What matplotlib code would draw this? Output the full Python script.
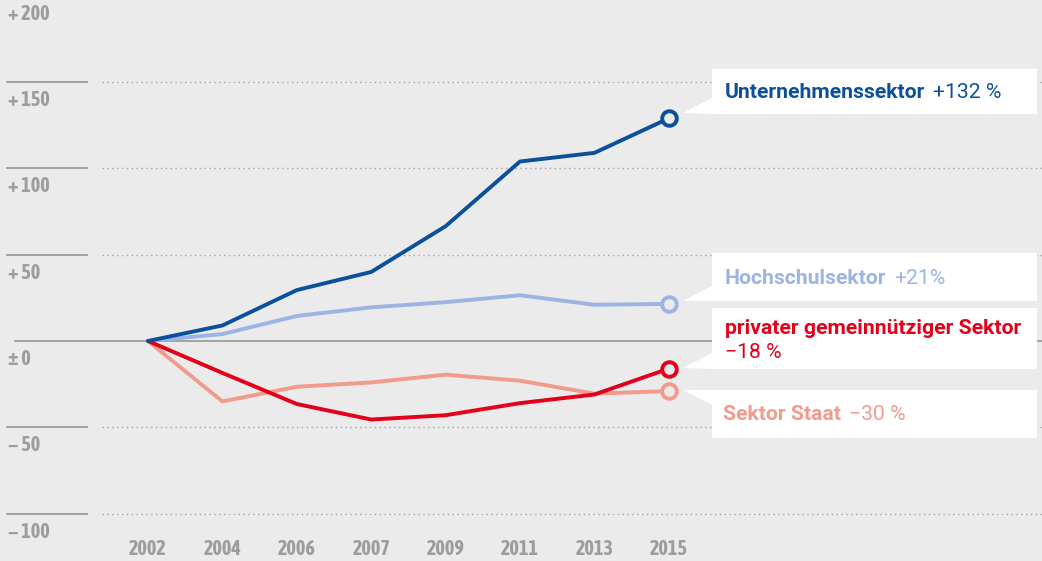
import matplotlib
matplotlib.use("Agg")
import matplotlib.pyplot as plt
from matplotlib import font_manager
from matplotlib.patches import Polygon

# -------- data --------
years = ["2002", "2004", "2006", "2007", "2009", "2011", "2013", "2015"]
unternehmen = [0, 9, 29.5, 40, 66.5, 104, 109, 129]
hochschule = [0, 4, 14.5, 19.5, 22.5, 26.5, 21, 21.5]
privat = [0, -18.5, -36.5, -45.5, -43, -36, -31, -16]
staat = [0, -35, -26.5, -24, -19.5, -23, -30.5, -29]
y_ticks = [200, 150, 100, 50, 0, -50, -100]
y_labels = ["+ 200", "+ 150", "+ 100", "+ 50", "± 0", "− 50", "− 100"]

names = ["Unternehmenssektor", "Hochschulsektor", "privater gemeinnütziger Sektor", "Sektor Staat"]
changes = ["+132 %", "+21%", "−18 %", "−30 %"]
colors = ["#0b509b", "#9cb4e1", "#e2001a", "#f29b8c"]

BG = "#ebebeb"
GRID = "#a3a3a3"
TICK = "#9d9d9d"
W, H = 1042, 561

# condensed bold font for the axis numbers, if one is installed
tick_font = None
for f in font_manager.fontManager.ttflist:
    n = f.name.lower()
    if ("narrow" in n or "condensed" in n) and f.weight in ("bold", 700):
        tick_font = f.fname
        break
if tick_font is None:
    for f in font_manager.fontManager.ttflist:
        if "condensed" in f.fname.lower() and "bold" in f.fname.lower():
            tick_font = f.fname
            break
if tick_font:
    tick_prop = font_manager.FontProperties(fname=tick_font, size=14.5)
else:
    tick_prop = font_manager.FontProperties(family="Roboto", weight="bold", size=12)

fig = plt.figure(figsize=(W / 100, H / 100), dpi=100, facecolor=BG)
ax = fig.add_axes([0, 0, 1, 1])
ax.set_facecolor(BG)
ax.axis("off")

# pixel layout: x index 0 at 148px, 74.4 px per step; y=0 at 341px, 1.726 px per unit
x0, dx = 148, 74.4
y0, dy = 341, 1.726
ax.set_xlim(-x0 / dx, (W - x0) / dx)
ax.set_ylim(-(H - y0) / dy, y0 / dy)


def px(x, y):
    return (x / W, 1 - y / H)


def xd(p):
    return (p - x0) / dx


tfig = fig.transFigure

# gridlines + left tick marks
for v, lab in zip(y_ticks, y_labels):
    if v == 0:
        ax.plot([xd(15), xd(W)], [0, 0], color=GRID, lw=1.4, zorder=1)
    else:
        ax.plot([xd(7), xd(87)], [v, v], color=GRID, lw=1.4, zorder=1)
        ax.plot([xd(102), xd(W)], [v, v], color=GRID, lw=1.0, ls=(0, (1, 2.5)), zorder=1)
    ax.text(xd(8), v - 18 / dy, lab, color=TICK, fontproperties=tick_prop,
            va="center", ha="left")

xs = list(range(len(years)))
for i, yr in enumerate(years):
    ax.text(i, -(549 - y0) / dy, yr, color=TICK, fontproperties=tick_prop,
            ha="center", va="center")

series = [unternehmen, hochschule, privat, staat]
order = [3, 1, 2, 0]
for k in order:
    ax.plot(xs, series[k], color=colors[k], lw=2.8, zorder=3, solid_capstyle="round")
    ax.plot(xs[-1], series[k][-1], marker="o", ms=10.5, mew=2.8, mec=colors[k],
            mfc=BG, zorder=4)

# label boxes (pixel coords): top, bottom, triangle points
boxes = [
    (69, 114, [(683, 113), (712, 98), (712, 114)]),
    (253, 301, [(683, 301), (712, 286), (712, 301)]),
    (308, 369, [(683, 368), (712, 353), (712, 369)]),
    (390, 438, [(683, 390), (712, 390), (712, 405)]),
]
for top, bot, tri in boxes:
    rect = Polygon([px(712, top), px(1037, top), px(1037, bot), px(712, bot)],
                   closed=True, transform=tfig, facecolor="white", edgecolor="none", zorder=5)
    fig.patches.append(rect)
    fig.patches.append(Polygon([px(*p) for p in tri], closed=True, transform=tfig,
                               facecolor="white", edgecolor="none", zorder=5))

fig.canvas.draw()
renderer = fig.canvas.get_renderer()
label_pos = [(725, 93), (725, 278), (725, 328), (723, 415)]
FS = 15.2
for k, (lx, ly) in enumerate(label_pos):
    t = fig.text(*px(lx, ly), names[k], color=colors[k], fontsize=FS, fontweight="bold",
                 family="Roboto", va="center", ha="left", zorder=6)
    if k == 2:
        fig.text(*px(lx, ly + 24), changes[k], color=colors[k], fontsize=FS,
                 family="Roboto", va="center", ha="left", zorder=6)
    else:
        bb = t.get_window_extent(renderer)
        fig.text(bb.x1 / W + 8 / W, 1 - ly / H, changes[k], color=colors[k], fontsize=FS,
                 family="Roboto", va="center", ha="left", zorder=6)

fig.savefig("out.png", dpi=100, facecolor=BG)
